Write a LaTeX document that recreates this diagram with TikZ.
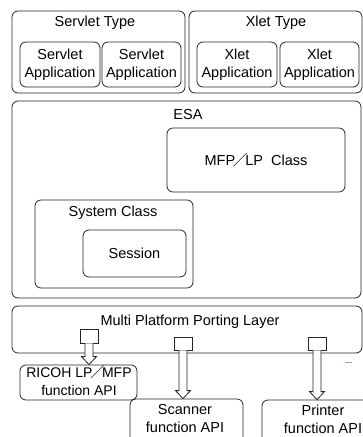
\documentclass[tikz,border=0pt]{standalone}
\usepackage{fontspec}
\setmainfont{Liberation Sans}
\newfontfamily\jpfont{Noto Sans CJK JP}
\usetikzlibrary{calc}
\newcommand\jslash{\kern-2.2pt{\jpfont ／}\kern-2.2pt}
\newcommand\hollowarrow[2]{%
  \draw[arrowshape] ($(#1)+(-4,0)$) -- ($(#2)+(-4,-8)$) -- ($(#2)+(-7.5,-8)$) -- (#2)
    -- ($(#2)+(7.5,-8)$) -- ($(#2)+(4,-8)$) -- ($(#1)+(4,0)$);}
\begin{document}
\begin{tikzpicture}[x=1pt,y=-1pt,
  box/.style={draw=black!85, line width=0.8pt, rounded corners=6pt, inner sep=0pt, align=center,
    font=\fontsize{14.5}{18}\selectfont},
  sqbox/.style={draw=black!85, line width=0.8pt, fill=white, inner sep=0pt},
  lbl/.style={inner sep=0pt, align=center, font=\fontsize{14.5}{18}\selectfont},
  arrowshape/.style={draw=black!85, line width=0.8pt, fill=white, line join=miter}]
\clip (0,0) rectangle (363,437);
\fill[white] (0,0) rectangle (363,437);
% top row
\node[box, minimum width=173pt, minimum height=82pt] (servT) at (98.5,52) {};
\node[lbl] (servTl) at (95,23) {Servlet Type};
\node[box, minimum width=80pt, minimum height=45pt] (sa1) at (60,64.5) {Servlet\\Application};
\node[box, minimum width=79pt, minimum height=45pt] (sa2) at (141.5,64.5) {Servlet\\Application};
\node[box, minimum width=173pt, minimum height=82pt] (xletT) at (275.5,52) {};
\node[lbl] (xletTl) at (276,23) {Xlet Type};
\node[box, minimum width=80pt, minimum height=45pt] (xa1) at (237,64.5) {Xlet\\Application};
\node[box, minimum width=79pt, minimum height=45pt] (xa2) at (319.5,64.5) {Xlet\\Application};
% ESA
\node[box, minimum width=349pt, minimum height=197pt] (esa) at (186.5,199.5) {};
\node[lbl] (esal) at (188,115) {ESA};
\node[box, minimum width=178pt, minimum height=64pt] (mfp) at (256,160) {MFP\jslash LP\ \ Class};
\node[box, minimum width=158pt, minimum height=88pt] (sys) at (114,244) {};
\node[lbl] (sysl) at (113,213) {System Class};
\node[box, minimum width=103pt, minimum height=47pt] (sess) at (134.5,253.5) {Session};
% porting layer
\node[box, minimum width=350pt, minimum height=47pt] (mppl) at (187,329.5) {};
\node[lbl] (mppll) at (190,322) {Multi Platform Porting Layer};
% bottom boxes
\node[box, minimum width=117pt, minimum height=35pt] (ricoh) at (78.5,382.5) {};
\node[lbl, font=\fontsize{14}{18}\selectfont] (ricohl) at (79,381) {RICOH LP\jslash MFP\\function API};
\node[box, minimum width=113pt, minimum height=46pt] (scan) at (186.5,422) {};
\node[lbl] (scanl) at (185,419) {Scanner\\function API};
\node[box, minimum width=110pt, minimum height=45pt] (print) at (317,422.5) {};
\node[lbl] (printl) at (323,419) {Printer\\function API};
% squares
\node[sqbox, minimum width=18pt, minimum height=14pt] (sq1) at (89,336) {};
\node[sqbox, minimum width=18pt, minimum height=13pt] (sq2) at (183,343.5) {};
\node[sqbox, minimum width=18pt, minimum height=13pt] (sq3) at (317,343.5) {};
\coordinate (t1) at (sq1.south |- ricoh.north);
\coordinate (t2) at (sq2.south |- scan.north);
\coordinate (t3) at (sq3.south |- print.north);
\hollowarrow{sq1.south}{t1}
\hollowarrow{sq2.south}{t2}
\hollowarrow{sq3.south}{t3}
% stray mark
\coordinate (m1) at (345,362);
\coordinate (m2) at (352,362);
\draw[color={rgb,255:red,130;green,160;blue,215}, line width=1pt] (m1) -- (m2);
\end{tikzpicture}
\end{document}
